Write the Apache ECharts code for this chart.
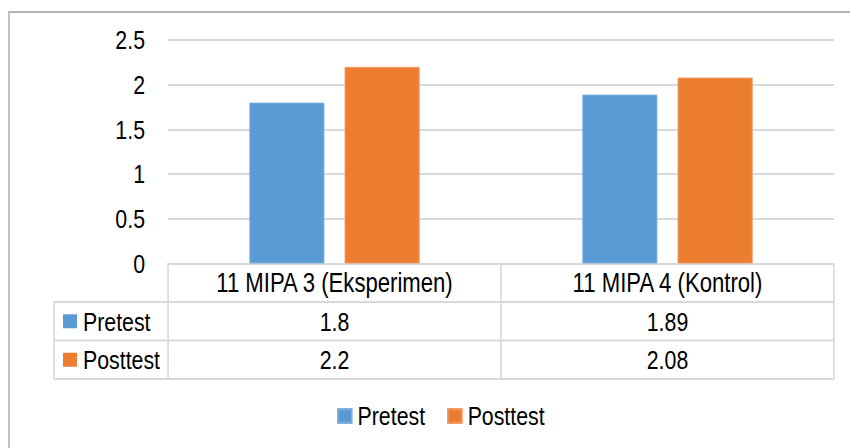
<!DOCTYPE html>
<html>
<head>
<meta charset="utf-8">
<script src="https://cdn.jsdelivr.net/npm/echarts@6/dist/echarts.min.js"></script>
<style>
  html, body { margin: 0; padding: 0; background: #fff; overflow: hidden; }
  #wrap { width: 850px; height: 448px; overflow: hidden; }
  /* condensed type: the chart is laid out wide and squeezed horizontally */
  #chart { height: 448px; transform-origin: 0 0; }
</style>
</head>
<body>
<div id="wrap"><div id="chart"></div></div>
<script>
// Mean scores per class, pretest vs posttest
const categories = ['11 MIPA 3 (Eksperimen)', '11 MIPA 4 (Kontrol)'];
const seriesNames = ['Pretest', 'Posttest'];
const pretest = [1.8, 1.89];
const posttest = [2.2, 2.08];
const yTicks = [0, 0.5, 1, 1.5, 2, 2.5];

const colors = ['#5B9BD5', '#ED7D31'];
const FONT = '"Liberation Sans", Arial, sans-serif';
const FS = 26;
const lineCol = '#d9d9d9';

// horizontal condense factor
const SX = 0.82;
const W = 850 / SX, H = 448;
const px = function (x) { return x / SX; };

const el = document.getElementById('chart');
el.style.width = W + 'px';
el.style.transform = 'scaleX(' + SX + ')';

// plot area (screen pixels)
const gLeft = 168, gRight = 834, gTop = 40, gBottom = 263.5;
const rowH = 38.5;
const tableLeft = 54;

const chart = echarts.init(el, null, { renderer: 'svg', width: W, height: H });

const option = {
  animation: false,
  backgroundColor: '#fff',
  textStyle: { fontFamily: FONT },
  grid: { left: px(gLeft), right: W - px(gRight), top: gTop, bottom: H - gBottom, containLabel: false },
  legend: {
    data: seriesNames,
    bottom: 19,
    left: px(337),
    padding: 0,
    icon: 'rect',
    itemWidth: px(14),
    itemHeight: 14,
    itemGap: px(22),
    textStyle: { fontFamily: FONT, fontSize: FS, color: '#000', padding: [0, 0, 0, 2] }
  },
  xAxis: {
    type: 'category',
    data: categories,
    axisLine: { lineStyle: { color: lineCol, width: 2 } },
    axisTick: { show: true, length: rowH * 3, lineStyle: { color: lineCol, width: 2 } },
    axisLabel: {
      margin: 0,
      interval: 0,
      formatter: function (v, i) {
        return '{h|' + v + '}\n{v|' + pretest[i] + '}\n{v|' + posttest[i] + '}';
      },
      rich: {
        h: { fontFamily: FONT, fontSize: 27, color: '#000', lineHeight: rowH, height: rowH, align: 'center' },
        v: { fontFamily: FONT, fontSize: FS, color: '#000', lineHeight: rowH, height: rowH, align: 'center' }
      }
    },
    splitLine: { show: false }
  },
  yAxis: {
    type: 'value',
    min: yTicks[0],
    max: yTicks[yTicks.length - 1],
    interval: yTicks[1] - yTicks[0],
    axisLine: { show: false },
    axisTick: { show: false },
    axisLabel: { margin: px(23), fontFamily: FONT, fontSize: FS, color: '#000' },
    splitLine: { lineStyle: { color: lineCol, width: 2 } }
  },
  series: [
    {
      name: seriesNames[0], type: 'bar', data: pretest,
      barWidth: px(75), barGap: '27%',
      itemStyle: { color: colors[0], borderColor: '#7fb1df', borderWidth: 1 }
    },
    {
      name: seriesNames[1], type: 'bar', data: posttest,
      barWidth: px(75), barGap: '27%',
      itemStyle: { color: colors[1], borderColor: '#f29a63', borderWidth: 1 }
    }
  ]
};

chart.setOption(option);

// Data table rules, row headers and the outer frame
function buildTable() {
  const y0 = chart.convertToPixel({ yAxisIndex: 0 }, 0);
  const els = [];
  els.push({
    type: 'rect', shape: { x: px(9), y: 12, width: W, height: H },
    style: { fill: null, stroke: '#b3b3b3', lineWidth: 2 }, silent: true
  });
  for (let r = 1; r <= 3; r++) {
    const y = y0 + rowH * r;
    els.push({
      type: 'line', shape: { x1: px(tableLeft), y1: y, x2: px(gRight), y2: y },
      style: { stroke: lineCol, lineWidth: 2 }, silent: true
    });
  }
  els.push({
    type: 'line', shape: { x1: px(tableLeft), y1: y0 + rowH, x2: px(tableLeft), y2: y0 + rowH * 3 },
    style: { stroke: lineCol, lineWidth: 2 }, silent: true
  });
  seriesNames.forEach(function (name, i) {
    const cy = y0 + rowH * (i + 1.5);
    els.push({
      type: 'rect', shape: { x: px(63), y: cy - 7, width: px(14), height: 14 },
      style: { fill: colors[i] }, silent: true
    });
    els.push({
      type: 'text', x: px(83), y: cy,
      style: { text: name, font: FS + 'px ' + FONT, fill: '#000', verticalAlign: 'middle' },
      silent: true
    });
  });
  chart.setOption({ graphic: els });
}
buildTable();
</script>
</body>
</html>
